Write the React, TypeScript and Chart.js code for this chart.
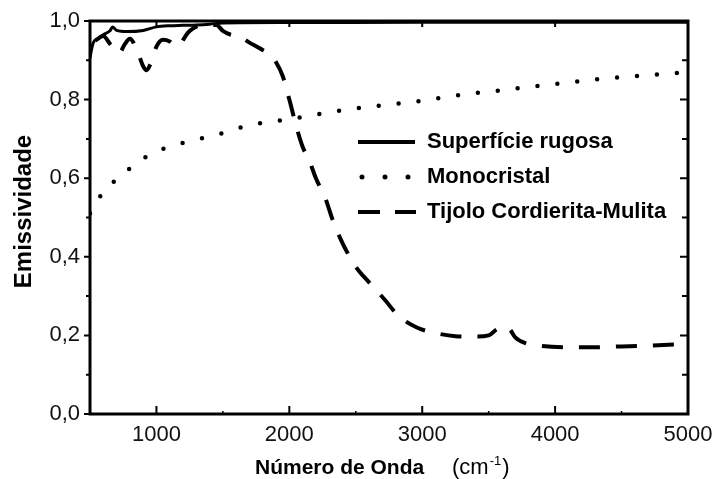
import React, { useEffect, useRef } from "react";
import { Chart, registerables } from "chart.js";

Chart.register(...registerables);

// ---------- data ----------
const seriesLabels = ["Superfície rugosa", "Monocristal", "Tijolo Cordierita-Mulita"];

const rugosaX = [500, 510, 525, 560, 600, 650, 670, 700, 780, 900, 1000, 1100, 1200, 1300, 1400, 1500, 2000, 3000, 4000, 5000];
const rugosaY = [0.905, 0.925, 0.945, 0.955, 0.965, 0.975, 0.985, 0.976, 0.973, 0.976, 0.985, 0.988, 0.989, 0.99, 0.992, 0.995, 0.996, 0.997, 0.997, 0.997];

const monoX = [500, 560, 600, 710, 800, 950, 1100, 1325, 1500, 1700, 2000, 2400, 2925, 3430, 3550, 3950, 4330, 4700, 4930, 5000];
const monoY = [0.51, 0.545, 0.565, 0.6, 0.625, 0.66, 0.68, 0.7, 0.715, 0.735, 0.75, 0.773, 0.794, 0.818, 0.822, 0.838, 0.852, 0.862, 0.868, 0.87];

const tijoloX = [540, 600, 650, 700, 720, 760, 800, 860, 900, 925, 960, 1000, 1050, 1100, 1150, 1250, 1350, 1450, 1500, 1560, 1620, 1700, 1780, 1850, 1900, 1950, 2000, 2050, 2100, 2150, 2200, 2270, 2330, 2400, 2500, 2600, 2720, 2820, 2960, 3100, 3250, 3400, 3500, 3560, 3620, 3660, 3700, 3780, 3900, 4100, 4300, 4500, 4700, 5000];
const tijoloY = [0.95, 0.962, 0.942, 0.922, 0.918, 0.94, 0.955, 0.92, 0.885, 0.875, 0.895, 0.935, 0.952, 0.948, 0.935, 0.975, 0.99, 0.99, 0.975, 0.965, 0.962, 0.945, 0.93, 0.915, 0.895, 0.86, 0.8, 0.735, 0.68, 0.645, 0.6, 0.55, 0.49, 0.435, 0.375, 0.335, 0.29, 0.25, 0.22, 0.206, 0.198, 0.197, 0.2, 0.215, 0.222, 0.215, 0.195, 0.18, 0.173, 0.17, 0.17, 0.172, 0.174, 0.178];

const xTickValues = [1000, 2000, 3000, 4000, 5000];
const xTickLabels = ["1000", "2000", "3000", "4000", "5000"];
const xMinorTicks = [1500, 2500, 3500, 4500];
const yTickValues = [0, 0.2, 0.4, 0.6, 0.8, 1.0];
const yTickLabels = ["0,0", "0,2", "0,4", "0,6", "0,8", "1,0"];
const yMinorTicks = [0.1, 0.3, 0.5, 0.7, 0.9];

const yAxisTitle = "Emissividade";
const xAxisTitle = "Número de Onda";
const xAxisUnit = "(cm";
const xAxisUnitExp = "-1";
const xAxisUnitClose = ")";

const FONT = "'Liberation Sans', Arial, Helvetica, sans-serif";

const toPoints = (xs: number[], ys: number[]) => xs.map((x, i) => ({ x, y: ys[i] }));

const decorPlugin = {
  id: "decor",
  afterDraw(chart: any) {
    const { ctx, chartArea: a, scales } = chart;
    const xs = scales.x;
    const ys = scales.y;
    ctx.save();
    ctx.strokeStyle = "#000";
    ctx.fillStyle = "#000";
    ctx.setLineDash([]);
    // frame
    ctx.lineWidth = 3;
    ctx.strokeRect(a.left, a.top, a.right - a.left, a.bottom - a.top);
    // ticks
    ctx.lineWidth = 2;
    ctx.beginPath();
    yTickValues.forEach((v) => {
      const y = ys.getPixelForValue(v);
      ctx.moveTo(a.left - 6, y);
      ctx.lineTo(a.left, y);
      ctx.moveTo(a.right, y);
      ctx.lineTo(a.right - 8, y);
    });
    yMinorTicks.forEach((v) => {
      const y = ys.getPixelForValue(v);
      ctx.moveTo(a.left - 4, y);
      ctx.lineTo(a.left, y);
      ctx.moveTo(a.right, y);
      ctx.lineTo(a.right - 6, y);
    });
    xTickValues.forEach((v) => {
      const x = xs.getPixelForValue(v);
      if (x >= a.right - 2) return;
      ctx.moveTo(x, a.bottom);
      ctx.lineTo(x, a.bottom - 8);
      ctx.moveTo(x, a.top);
      ctx.lineTo(x, a.top + 6);
    });
    ctx.stroke();
    ctx.lineWidth = 1.5;
    ctx.beginPath();
    xMinorTicks.forEach((v) => {
      const x = xs.getPixelForValue(v);
      ctx.moveTo(x, a.bottom);
      ctx.lineTo(x, a.bottom - 3);
    });
    ctx.stroke();

    // legend
    const rows = [142, 177, 212];
    const ds = chart.data.datasets;
    ds.forEach((d: any, i: number) => {
      const y = rows[i];
      ctx.beginPath();
      if (i === 0) {
        ctx.setLineDash([]);
        ctx.lineCap = "butt";
        ctx.lineWidth = 4;
        ctx.moveTo(358, y);
        ctx.lineTo(415, y);
      } else if (i === 1) {
        ctx.setLineDash([0, 23]);
        ctx.lineCap = "round";
        ctx.lineWidth = 5;
        ctx.moveTo(362, y);
        ctx.lineTo(412, y);
      } else {
        ctx.setLineDash([22, 15]);
        ctx.lineCap = "butt";
        ctx.lineWidth = 4;
        ctx.moveTo(358, y);
        ctx.lineTo(416, y);
      }
      ctx.stroke();
      ctx.setLineDash([]);
      ctx.font = `bold 22px ${FONT}`;
      ctx.textAlign = "left";
      ctx.textBaseline = "middle";
      ctx.fillText(d.label, 427, y);
    });

    // y axis title
    ctx.save();
    ctx.translate(24, (a.top + a.bottom) / 2 - 6);
    ctx.rotate(-Math.PI / 2);
    ctx.font = `bold 24px ${FONT}`;
    ctx.textAlign = "center";
    ctx.textBaseline = "middle";
    ctx.fillText(yAxisTitle, 0, 0);
    ctx.restore();

    // x axis title
    ctx.textAlign = "left";
    ctx.textBaseline = "alphabetic";
    const by = 474;
    ctx.font = `bold 21px ${FONT}`;
    ctx.fillText(xAxisTitle, 255, by);
    ctx.font = `22px ${FONT}`;
    let ux = 452;
    ctx.fillText(xAxisUnit, ux, by);
    ux += ctx.measureText(xAxisUnit).width + 1;
    ctx.font = `13px ${FONT}`;
    ctx.fillText(xAxisUnitExp, ux, by - 9);
    ux += ctx.measureText(xAxisUnitExp).width + 1;
    ctx.font = `22px ${FONT}`;
    ctx.fillText(xAxisUnitClose, ux, by);

    ctx.restore();
  },
};

export default function App() {
  const ref = useRef<HTMLCanvasElement | null>(null);

  useEffect(() => {
    if (!ref.current) return;
    const chart = new Chart(ref.current, {
      type: "line",
      data: {
        datasets: [
          {
            label: seriesLabels[0],
            data: toPoints(rugosaX, rugosaY),
            borderColor: "#000",
            borderWidth: 3,
            pointRadius: 0,
            fill: false,
            cubicInterpolationMode: "monotone",
          },
          {
            label: seriesLabels[1],
            data: toPoints(monoX, monoY),
            borderColor: "#000",
            borderWidth: 4.5,
            borderDash: [0, 20],
            borderCapStyle: "round",
            pointRadius: 0,
            fill: false,
            cubicInterpolationMode: "monotone",
          },
          {
            label: seriesLabels[2],
            data: toPoints(tijoloX, tijoloY),
            borderColor: "#000",
            borderWidth: 4,
            borderDash: [21, 16],
            pointRadius: 0,
            fill: false,
            cubicInterpolationMode: "monotone",
          },
        ],
      },
      options: {
        animation: false,
        responsive: false,
        events: [],
        layout: { padding: { left: 0, top: 21, right: 25, bottom: 0 } },
        plugins: {
          legend: { display: false },
          tooltip: { enabled: false },
          title: { display: false },
        },
        scales: {
          x: {
            type: "linear",
            min: 500,
            max: 5000,
            grid: { display: false, drawTicks: false },
            border: { display: false },
            afterBuildTicks: (s: any) => {
              s.ticks = xTickValues.map((v) => ({ value: v }));
            },
            afterFit: (s: any) => {
              s.height = 65;
              s.paddingLeft = 0;
              s.paddingRight = 0;
            },
            ticks: {
              padding: 8,
              maxRotation: 0,
              autoSkip: false,
              color: "#111",
              font: { family: FONT, size: 22 },
              callback: (v: any) => {
                const i = xTickValues.indexOf(Number(v));
                return i >= 0 ? xTickLabels[i] : "";
              },
            },
          },
          y: {
            type: "linear",
            min: 0,
            max: 1,
            grid: { display: false, drawTicks: false },
            border: { display: false },
            afterBuildTicks: (s: any) => {
              s.ticks = yTickValues.map((v) => ({ value: v }));
            },
            afterFit: (s: any) => {
              s.width = 90;
              s.paddingTop = 0;
              s.paddingBottom = 0;
            },
            ticks: {
              padding: 10,
              autoSkip: false,
              color: "#111",
              font: { family: FONT, size: 22 },
              callback: (v: any) => {
                const i = yTickValues.findIndex((t) => Math.abs(t - Number(v)) < 1e-6);
                return i >= 0 ? yTickLabels[i] : "";
              },
            },
          },
        },
      },
      plugins: [decorPlugin],
    } as any);
    return () => chart.destroy();
  }, []);

  return (
    <div style={{ position: "absolute", left: 0, top: 0, width: 713, height: 479, background: "#fff" }}>
      <canvas ref={ref} width={713} height={479} style={{ display: "block" }} />
    </div>
  );
}
